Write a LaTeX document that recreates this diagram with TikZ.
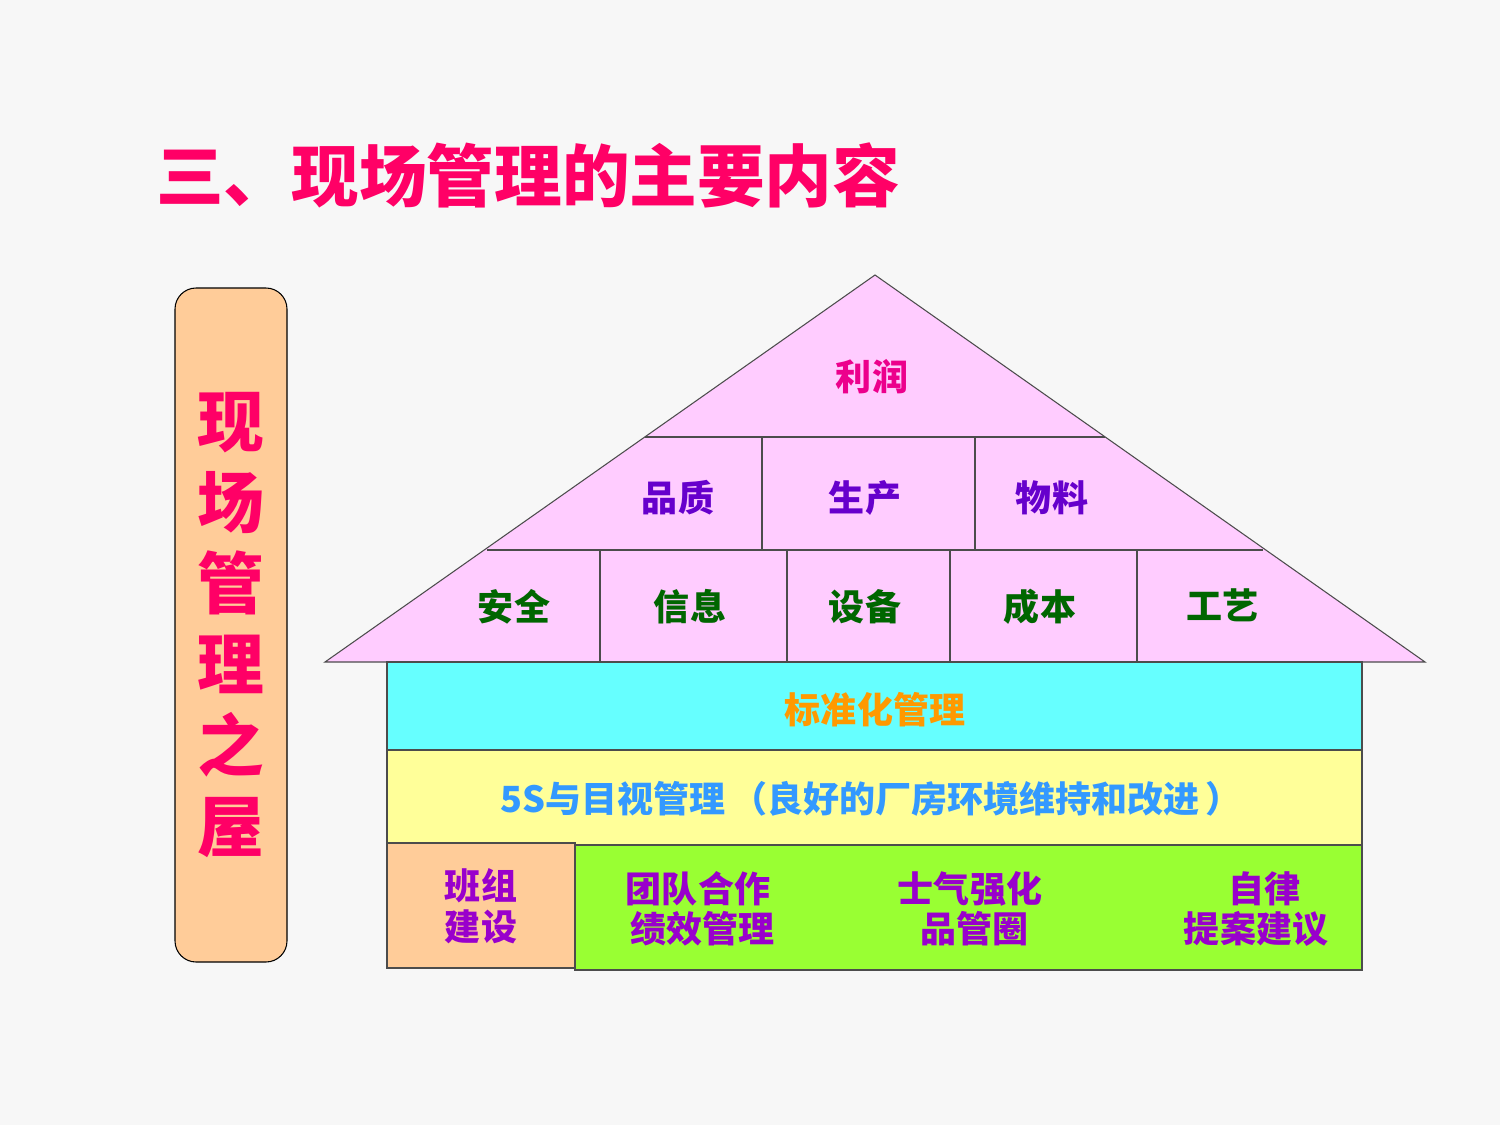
\documentclass[tikz,border=0pt]{standalone}
\usepackage{fontspec}
\setmainfont{Noto Sans CJK SC}
\usepackage{tikz}
\usetikzlibrary{positioning,shapes}

\begin{document}
\begin{tikzpicture}[x=0.02cm,y=-0.02cm]
\tikzset{LabelStyle/.style = {font=\fontsize{20.5}{23}\selectfont\bfseries, inner sep=0pt}}
\tikzset{RoofStyle/.style = {fill={rgb,255:red,255;green,204;blue,255}, draw=black!70, line width=0.6pt}}
\tikzset{BlockStyle/.style = {draw=black!70, line width=0.6pt}}
\useasboundingbox (0,0) rectangle (1500,1125);
\fill[black!3] (0,0) rectangle (1500,1125);
% title
\node[font=\fontsize{38.5}{42}\selectfont\bfseries, text={rgb,255:red,255;green,0;blue,102}, anchor=west] (title) at (150,175) {三、现场管理的主要内容};
% left tag
\draw[fill={rgb,255:red,255;green,204;blue,153}, rounded corners=12pt, line width=0.6pt] (175,288) rectangle (287,962);
\node[font=\fontsize{38}{46}\selectfont\bfseries, text={rgb,255:red,255;green,0;blue,102}, align=center] (tag) at (231,625) {现\\场\\管\\理\\之\\屋};
% roof
\draw[RoofStyle] (875,275) -- (1425,662) -- (325,662) -- cycle;
\draw[BlockStyle] (645,437) -- (1105,437);
\draw[BlockStyle] (487,550) -- (1263,550);
\foreach \x in {762,975} \draw[BlockStyle] (\x,437) -- (\x,550);
\foreach \x in {600,787,950,1137} \draw[BlockStyle] (\x,550) -- (\x,662);
% blocks
\draw[BlockStyle, fill={rgb,255:red,102;green,255;blue,255}] (387,662) rectangle (1362,750);
\draw[BlockStyle, fill={rgb,255:red,255;green,255;blue,153}] (387,750) rectangle (1362,845);
\draw[BlockStyle, fill={rgb,255:red,153;green,255;blue,51}] (575,845) rectangle (1362,970);
\draw[BlockStyle, fill={rgb,255:red,255;green,204;blue,153}] (387,843) rectangle (575,968);
% labels
\node[LabelStyle, text=magenta] (profit) at (872,377) {利润};
\node[LabelStyle, text={rgb,255:red,102;green,0;blue,204}] (quality) at (678,498) {品质};
\node[LabelStyle, text={rgb,255:red,102;green,0;blue,204}] (produce) at (865,498) {生产};
\node[LabelStyle, text={rgb,255:red,102;green,0;blue,204}] (material) at (1052,498) {物料};
\node[LabelStyle, text={rgb,255:red,0;green,102;blue,0}] (safety) at (514,607) {安全};
\node[LabelStyle, text={rgb,255:red,0;green,102;blue,0}] (info) at (690,607) {信息};
\node[LabelStyle, text={rgb,255:red,0;green,102;blue,0}] (equip) at (865,607) {设备};
\node[LabelStyle, text={rgb,255:red,0;green,102;blue,0}] (cost) at (1040,607) {成本};
\node[LabelStyle, text={rgb,255:red,0;green,102;blue,0}] (craft) at (1222,605) {工艺};
\node[LabelStyle, text={rgb,255:red,255;green,153;blue,0}] (std) at (875,710) {标准化管理};
\node[LabelStyle, text={rgb,255:red,51;green,153;blue,255}] (fives) at (871,799) {5S与目视管理\,（良好的厂房环境维持和改进\,）};
\node[LabelStyle, text={rgb,255:red,153;green,0;blue,204}, align=center] (team) at (481,906) {班组\\建设};
\node[LabelStyle, text={rgb,255:red,153;green,0;blue,204}, align=center] (perf) at (698,909) {团队合作\\\ 绩效管理};
\node[LabelStyle, text={rgb,255:red,153;green,0;blue,204}, align=center] (morale) at (970,909) {士气强化\\\ 品管圈};
\node[LabelStyle, text={rgb,255:red,153;green,0;blue,204}, align=center] (self) at (1256,909) {\ \ 自律\\提案建议};
\end{tikzpicture}
\end{document}
